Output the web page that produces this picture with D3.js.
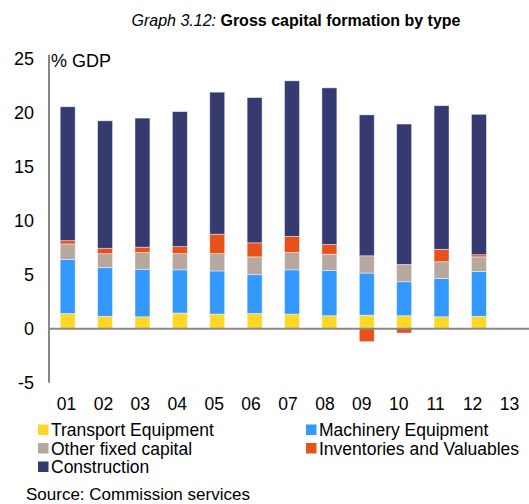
<!DOCTYPE html>
<html><head><meta charset="utf-8">
<script src="https://cdn.jsdelivr.net/npm/d3@7"></script>
<style>
body{margin:0;background:#fff;font-family:"Liberation Sans",Arial,sans-serif;}
svg text{font-family:"Liberation Sans",Arial,sans-serif;fill:#000;}
</style></head>
<body><svg id="c" width="529" height="504"></svg>
<script>
const years = ["01","02","03","04","05","06","07","08","09","10","11","12","13"];
const seriesNames = ["Transport Equipment","Machinery Equipment","Other fixed capital","Inventories and Valuables","Construction"];
const transport   = [1.4, 1.15, 1.1, 1.45, 1.35, 1.4, 1.35, 1.2, 1.25, 1.2, 1.1, 1.15, null];
const machinery   = [5.0, 4.5, 4.4, 4.0, 4.0, 3.6, 4.1, 4.2, 3.9, 3.15, 3.55, 4.15, null];
const otherFixed  = [1.45, 1.3, 1.55, 1.5, 1.6, 1.65, 1.6, 1.5, 1.6, 1.6, 1.55, 1.35, null];
const inventories = [0.3, 0.5, 0.5, 0.65, 1.8, 1.3, 1.5, 0.9, -1.2, -0.4, 1.15, 0.2, null];
const construction= [12.4, 11.8, 11.95, 12.5, 13.15, 13.45, 14.4, 14.5, 13.05, 13.0, 13.3, 13.0, null];
const yTicks = [-5, 0, 5, 10, 15, 20, 25];
const colors = ["#FFD726","#3399FF","#B6A79F","#E8511A","#353B71"];

const seriesData = [transport, machinery, otherFixed, inventories, construction];
const rows = years.map((yr, i) => {
  const r = {year: yr};
  seriesNames.forEach((s, k) => r[s] = seriesData[k][i] == null ? 0 : seriesData[k][i]);
  return r;
});

const svg = d3.select("#c");
const x = d3.scaleBand().domain(years).range([49, 535]).paddingInner(0.6).paddingOuter(0.3);
const xLab = d3.scaleBand().domain(years).range([48, 528]);
const y = d3.scaleLinear().domain([-5, 25]).range([382.7, 58.7]);

const stack = d3.stack().keys(seriesNames).offset(d3.stackOffsetDiverging);
const stacked = stack(rows);

svg.append("g").selectAll("g").data(stacked).join("g")
  .attr("fill", (d, i) => colors[i])
  .selectAll("rect").data(d => d).join("rect")
  .attr("x", d => x(d.data.year))
  .attr("width", x.bandwidth())
  .attr("y", d => y(Math.max(d[0], d[1])))
  .attr("height", d => Math.abs(y(d[0]) - y(d[1])))
  .attr("stroke", "rgba(255,255,255,0.55)")
  .attr("stroke-width", 0.8);

// Y axis
const yAxis = svg.append("g").attr("transform", "translate(49,0)")
  .call(d3.axisLeft(y).tickValues(yTicks).tickSize(0).tickPadding(15).tickFormat(d => String(d)));
yAxis.select(".domain").remove();
yAxis.selectAll("text").style("font-size", "18px");
svg.append("line").attr("x1", 49).attr("x2", 49).attr("y1", y(25) - 4).attr("y2", y(-5))
  .attr("stroke", "#878787").attr("stroke-width", 2);

// zero line
svg.append("line").attr("x1", 49).attr("x2", 529).attr("y1", y(0)).attr("y2", y(0))
  .attr("stroke", "#878787").attr("stroke-width", 2);

// X axis labels
const xAxis = svg.append("g").attr("transform", "translate(0,398)")
  .call(d3.axisBottom(xLab).tickSize(0).tickPadding(0));
xAxis.select(".domain").remove();
xAxis.selectAll("text").style("font-size", "17.5px");

// unit label
svg.append("text").attr("x", 51).attr("y", 66.5).style("font-size", "18px").text("% GDP");

// title
const title = svg.append("text").attr("x", 296).attr("y", 25.5).attr("text-anchor", "middle").style("font-size", "16px");
title.append("tspan").style("font-style", "italic").text("Graph 3.12: ");
title.append("tspan").style("font-weight", "bold").text("Gross capital formation by type");

// legend
const legPos = [[38, 430], [306, 430], [38, 448.5], [306, 448.5], [38, 467]];
const leg = svg.append("g").selectAll("g").data(seriesNames).join("g")
  .attr("transform", (d, i) => `translate(${legPos[i][0]},${legPos[i][1]})`);
leg.append("rect").attr("x", 0).attr("y", -5.5).attr("width", 10.5).attr("height", 10.5)
  .attr("fill", (d, i) => colors[i]);
leg.append("text").attr("x", 13).attr("y", 6.3).style("font-size", "17.5px").text(d => d);

svg.append("text").attr("x", 26).attr("y", 500).style("font-size", "17px").text("Source: Commission services");
</script></body></html>
